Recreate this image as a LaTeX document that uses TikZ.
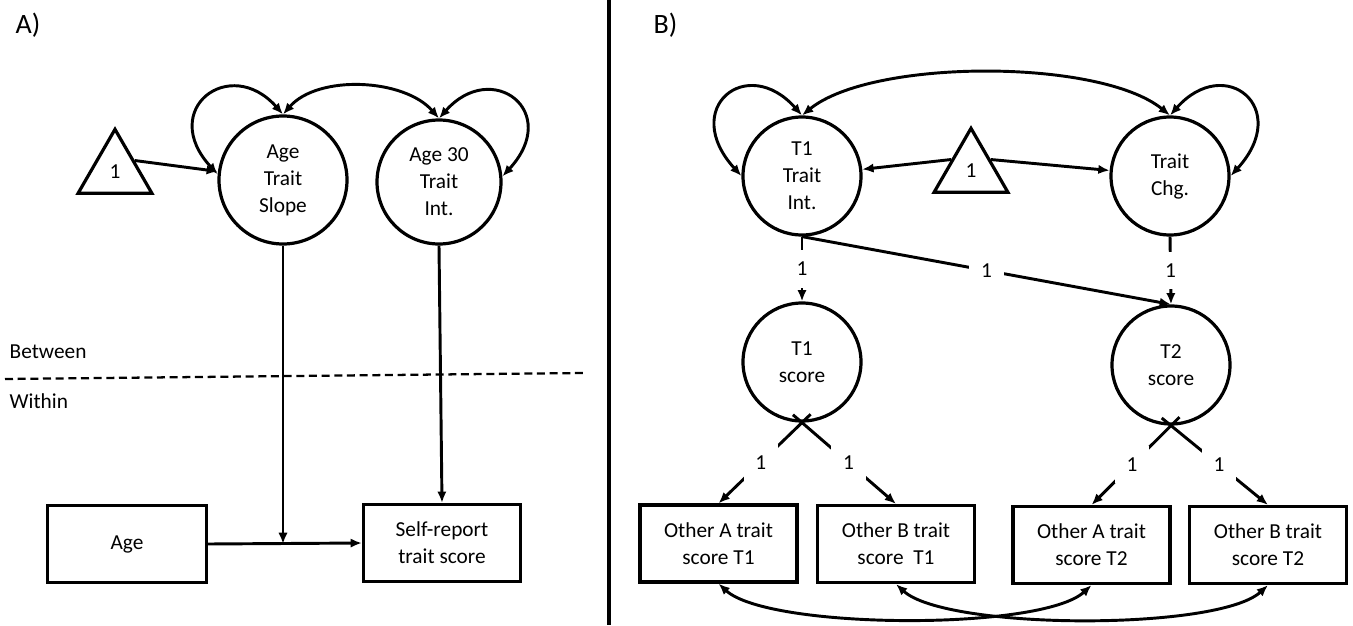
\documentclass[tikz,border=0pt]{standalone}
\usepackage{fontspec}
\setmainfont{Carlito}
\usetikzlibrary{arrows.meta,shapes.geometric,calc}
\begin{document}
\begin{tikzpicture}[x=0.75pt,y=0.75pt,
  every node/.style={font=\fontsize{16pt}{20.25pt}\selectfont},
  lat/.style={circle,draw,line width=2.4pt,minimum size=88.5pt,inner sep=0pt,align=center},
  obs/.style={rectangle,draw,line width=2.4pt,minimum width=117.75pt,minimum height=57.75pt,inner sep=0pt,align=center},
  tri/.style={regular polygon,regular polygon sides=3,draw,line width=2.4pt,minimum size=64pt,inner sep=0pt},
  tip/.tip={Latex[length=8.5pt,width=7pt]},
  arr/.style={line width=2.2pt,-tip},
  dbl/.style={line width=2.2pt,tip-tip},
  lab/.style={fill=white,inner sep=0pt,minimum width=26pt,minimum height=28pt},
  panel/.style={anchor=base west,font=\fontsize{21pt}{25pt}\selectfont},
  side/.style={anchor=base west}
]
\useasboundingbox (0,0) rectangle (1353,-625);
\fill[white] (0,0) rectangle (1353,-625);

% ---------- Panel A ----------
\node[panel] (pa) at (11,-33) {A)};
\node[tri] (tl) at (115,-172) {\raisebox{-4.5pt}{1}};
\node[lat,minimum size=96pt] (c1) at (283,-180) {Age\\Trait\\Slope};
\node[lat,minimum size=93pt] (c2) at (439,-182) {Age 30\\Trait\\Int.};
\node[obs,minimum width=119pt] (age) at (127,-544) {Age};
\node[obs] (self) at (442,-543) {Self-report\\trait score};
\node[side] (betw) at (5,-358) {Between};
\node[side] (with) at (5,-408) {Within};
\coordinate (dl) at (5,-379);
\coordinate (dr) at (583,-373);
\draw[line width=1.7pt,dash pattern=on 6pt off 3.5pt] (dl) -- (dr);

\draw[arr] (tl.side 3) -- (c1);
\draw[dbl] (c1.175) .. controls +(-60,65) and +(-53,60) .. (c1.north);
\draw[dbl] (c2.north) .. controls +(53,60) and +(60,65) .. (c2.5);
\draw[dbl] (c1.north) .. controls +(35,40) and +(-35,40) .. (c2.north);
\coordinate (m) at (c1.south |- age.east);
\draw[arr] (c1.south) -- (m);
\draw[arr] (age.east) -- (self.west);
\draw[arr] (c2.south) -- (self.north);

% ---------- divider ----------
\coordinate (vt) at (609,0);
\coordinate (vb) at (609,-625);
\draw[line width=2.4pt] (vt) -- (vb);

% ---------- Panel B ----------
\node[panel] (pb) at (649,-33) {B)};
\node[lat] (t1i) at (802,-176) {T1\\Trait\\Int.};
\node[lat] (chg) at (1170,-176) {Trait\\Chg.};
\node[tri] (tr) at (971,-171) {\raisebox{-4.5pt}{1}};
\node[lat] (s1) at (802,-362) {T1\\score};
\node[lat] (s2) at (1171,-365) {T2\\score};
\node[obs] (b1) at (718.5,-543.5) {Other A trait\\score T1};
\node[obs] (b2) at (896,-544) {Other B trait\\score\ \ T1};
\node[obs] (b3) at (1091.5,-545) {Other A trait\\score T2};
\node[obs] (b4) at (1268,-545) {Other B trait\\score T2};

\draw[dbl] (t1i.west) .. controls +(-62,68) and +(-55,62) .. (t1i.north);
\draw[dbl] (chg.north) .. controls +(55,62) and +(62,68) .. (chg.east);
\draw[dbl] (t1i.north) .. controls +(70,57) and +(-70,57) .. (chg.north);
\draw[arr] (tr.side 1) -- (t1i);
\draw[arr] (tr.side 3) -- (chg);

\draw[arr] (t1i.south) -- node[lab] {1} (s1.north);
\draw[arr] (chg.south) -- node[lab] {1} (s2.north);
\draw[arr] (t1i.south) -- node[lab] {1} (s2.north);

\draw[arr] ($(s1.south)!-9pt!(b1.north)$) -- node[lab,pos=0.54] {1} (b1.north);
\draw[arr] ($(s1.south)!-9pt!(b2.north)$) -- node[lab,pos=0.54] {1} (b2.north);
\draw[arr] ($(s2.south)!-9pt!(b3.north)$) -- node[lab,pos=0.54] {1} (b3.north);
\draw[arr] ($(s2.south)!-9pt!(b4.north)$) -- node[lab,pos=0.54] {1} (b4.north);

\draw[dbl] (b1.south) .. controls +(50,-46) and +(-50,-46) .. (b3.south);
\draw[dbl] (b2.south) .. controls +(50,-46) and +(-50,-46) .. (b4.south);
\end{tikzpicture}
\end{document}
